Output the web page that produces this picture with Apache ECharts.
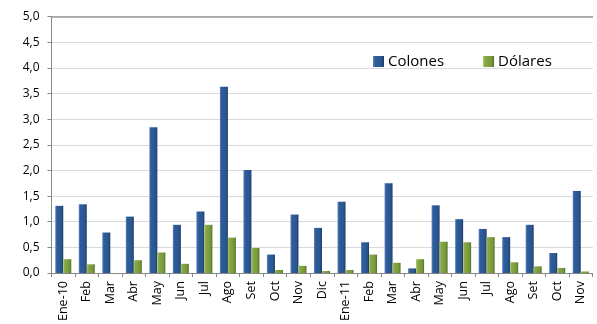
<!DOCTYPE html>
<html>
<head>
<meta charset="utf-8">
<script src="https://cdn.jsdelivr.net/npm/echarts@6/dist/echarts.min.js"></script>
<style>html,body{margin:0;padding:0;background:#fff}#c{width:597px;height:324px}</style>
</head>
<body>
<div id="c"></div>
<script>
const categories = ["Ene-10","Feb","Mar","Abr","May","Jun","Jul","Ago","Set","Oct","Nov","Dic","Ene-11","Feb","Mar","Abr","May","Jun","Jul","Ago","Set","Oct","Nov"];
const colones = [1.31,1.34,0.79,1.10,2.84,0.94,1.20,3.63,2.01,0.36,1.14,0.88,1.39,0.60,1.75,0.09,1.32,1.05,0.86,0.70,0.94,0.39,1.60];
const dolares = [0.27,0.17,0.00,0.25,0.40,0.18,0.94,0.69,0.49,0.06,0.14,0.04,0.06,0.36,0.20,0.27,0.61,0.60,0.70,0.21,0.13,0.10,0.03];
const yTicks = [0,0.5,1,1.5,2,2.5,3,3.5,4,4.5,5];

const font = '"Open Sans", "Liberation Sans", sans-serif';
function grad(c0,c1,c2,c3){
  return new echarts.graphic.LinearGradient(0,0,1,0,[
    {offset:0,color:c0},{offset:0.2,color:c1},{offset:0.75,color:c2},{offset:1,color:c3}]);
}
const chart = echarts.init(document.getElementById('c'), null, {renderer:'canvas'});
chart.setOption({
  animation:false,
  backgroundColor:'#fff',
  grid:{left:51.5,right:4.5,top:16.5,bottom:50.7,containLabel:false},
  legend:{
    data:['Colones','Dólares'],
    left:368, top:49,
    itemWidth:11,itemHeight:11,itemGap:39,
    icon:'rect',
    textStyle:{fontFamily:font,fontSize:15,color:'#000',padding:[0,0,0,-1]}
  },
  xAxis:[{
    type:'category',data:categories,
    axisLine:{lineStyle:{color:'#888',width:1}},
    axisTick:{show:true,length:4,lineStyle:{color:'#888'}},
    axisLabel:{rotate:90,fontFamily:font,fontSize:12.5,color:'#000',margin:8,interval:0}
  },{
    type:'category',data:categories,position:'top',
    axisLine:{show:true,lineStyle:{color:'#999',width:1.5}},
    axisTick:{show:false},axisLabel:{show:false}
  }],
  yAxis:{
    type:'value',min:0,max:5,interval:0.5,
    axisLine:{show:true,lineStyle:{color:'#888',width:1}},
    axisTick:{show:true,length:4,lineStyle:{color:'#888'}},
    axisLabel:{fontFamily:font,fontSize:12,color:'#000',margin:12,
      formatter:v=>v.toFixed(1).replace('.',',')},
    splitLine:{show:true,lineStyle:{color:'#b4b4b4',type:[1,1],width:1}}
  },
  series:[{
    name:'Colones',type:'bar',data:colones,barWidth:8,barGap:'0%',
    itemStyle:{color:grad('#5f86bd','#2f5d9c','#2a568f','#1d3c68')}
  },{
    name:'Dólares',type:'bar',data:dolares,barWidth:8,
    itemStyle:{color:grad('#a9c46c','#86a845','#77983a','#55712a')}
  }]
});
</script>
</body>
</html>
